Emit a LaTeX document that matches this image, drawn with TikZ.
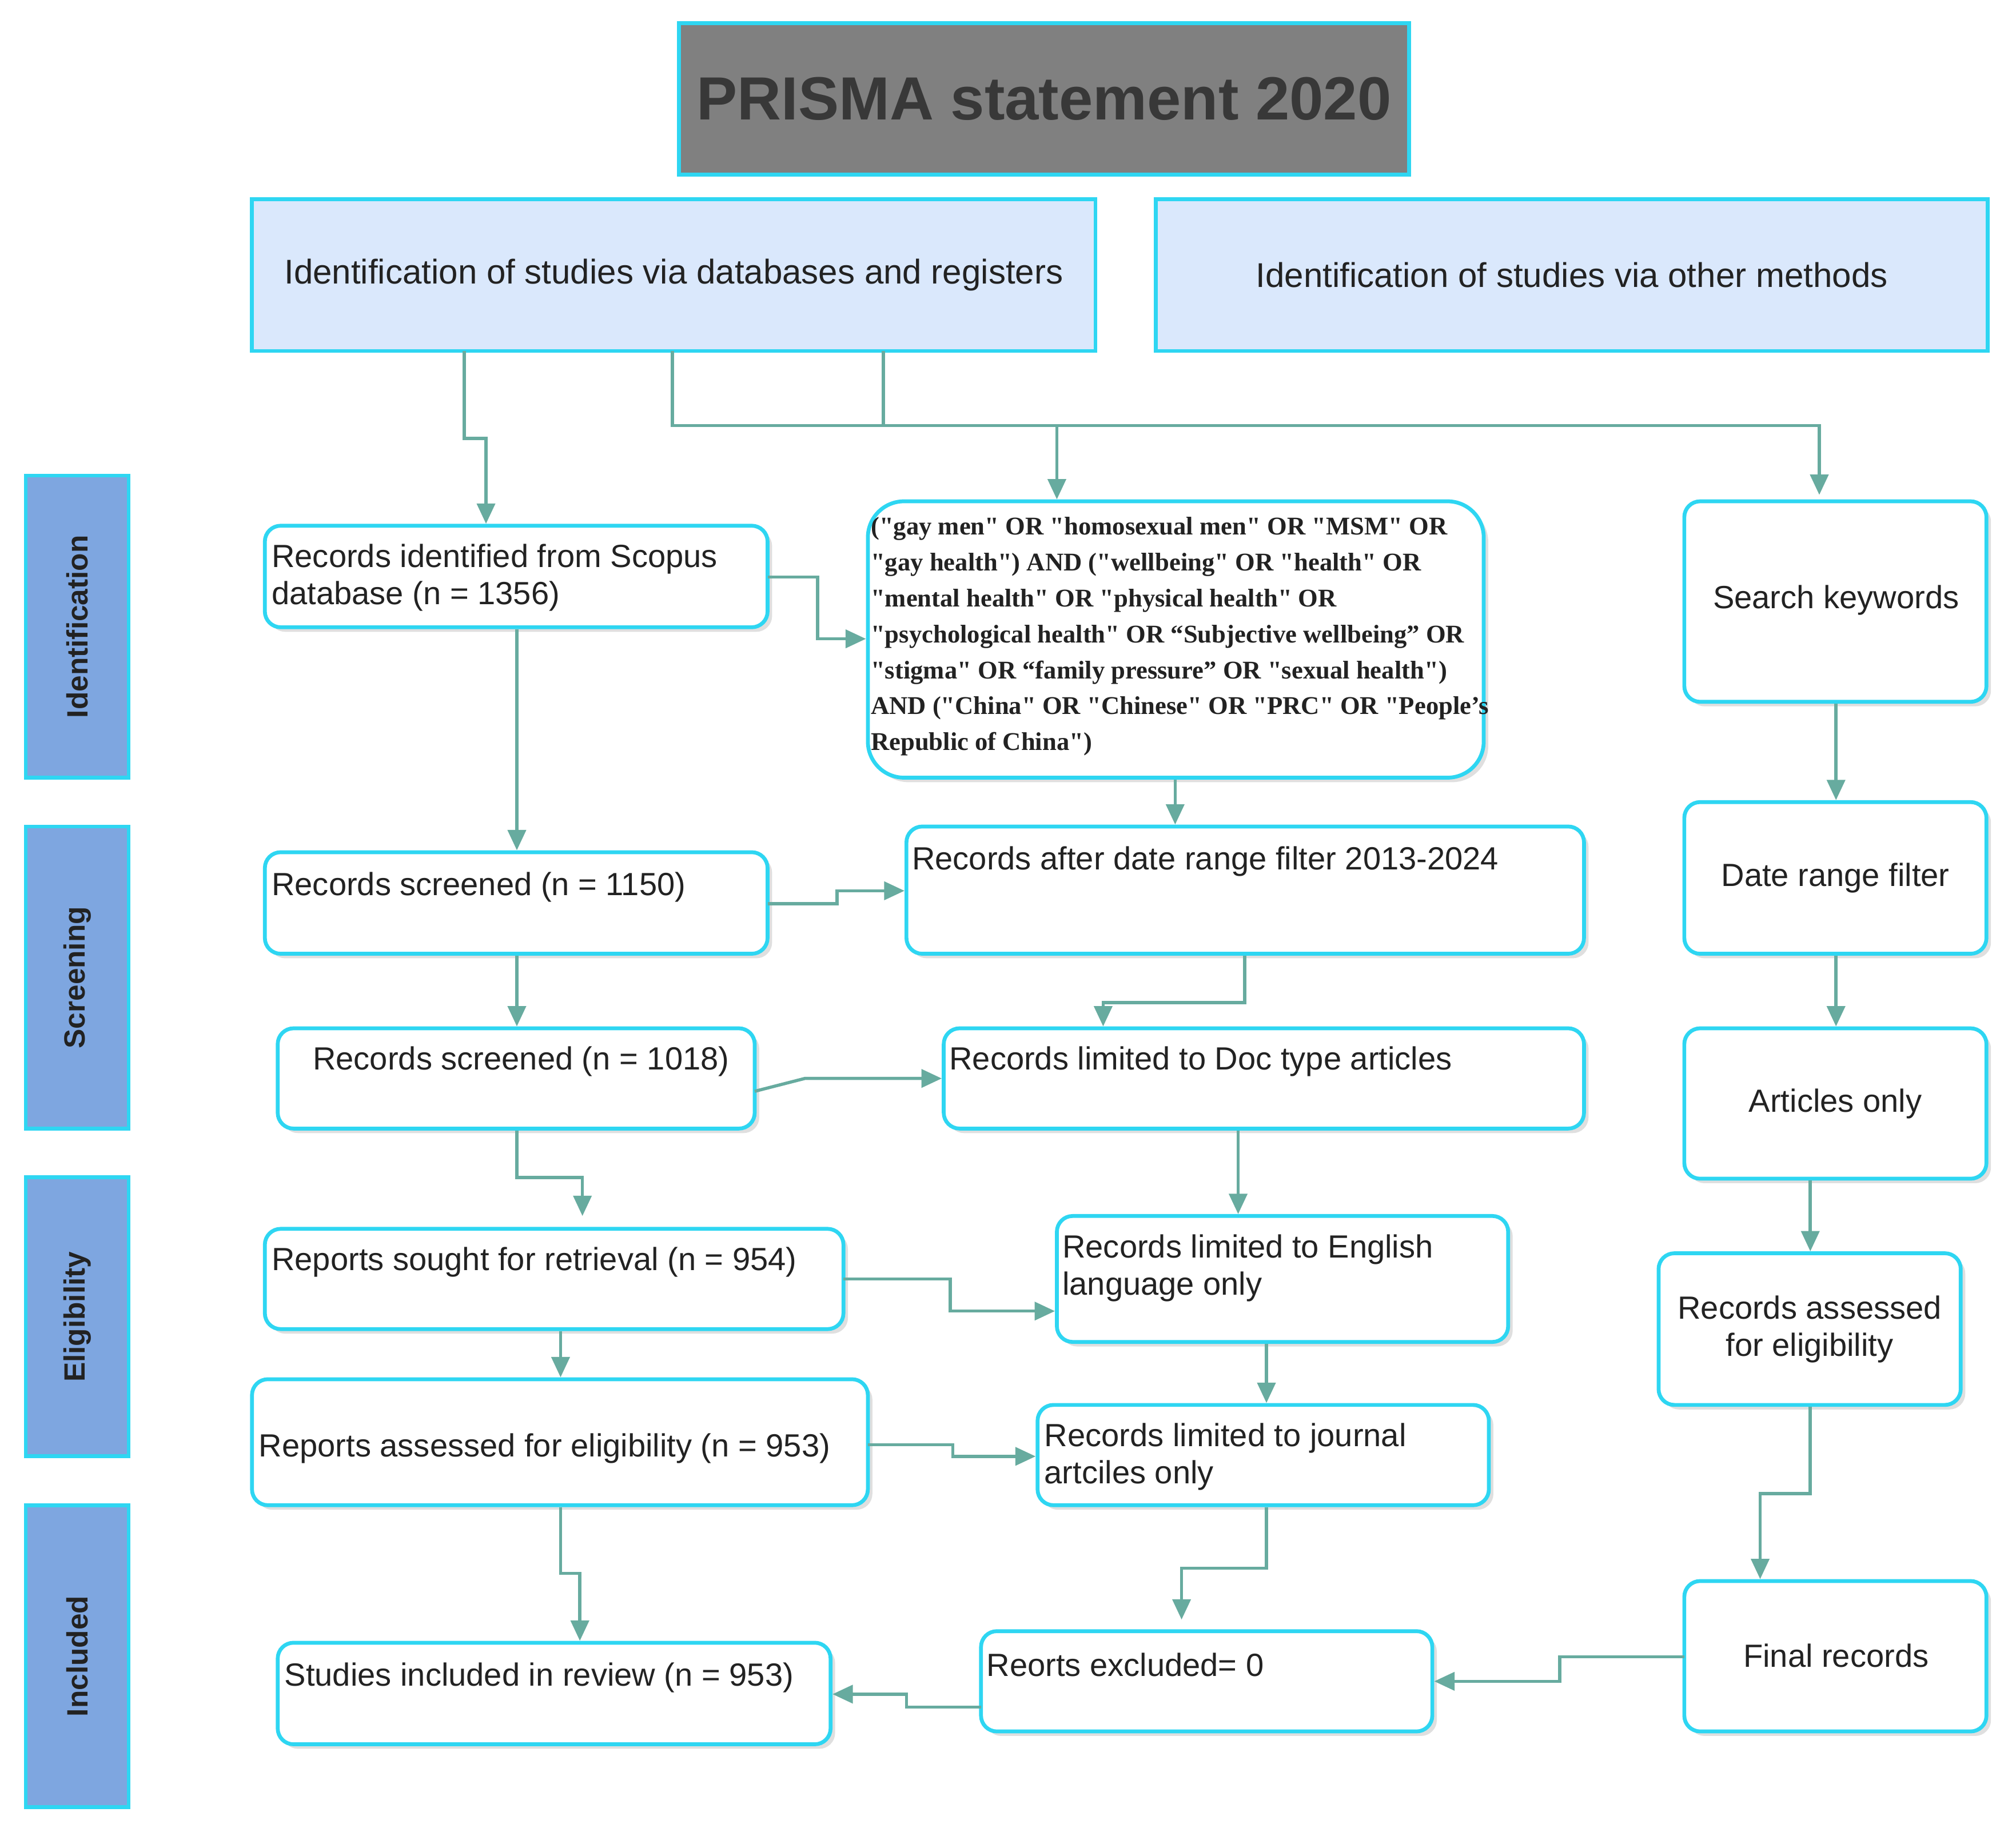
\documentclass[tikz,border=0pt]{standalone}
\usepackage{fontspec}
\setmainfont{Liberation Sans}
\newfontfamily\qserif{Liberation Serif}
\usetikzlibrary{arrows.meta,shadows}
\definecolor{cyanb}{HTML}{2ED6F2}
\definecolor{teal}{HTML}{67AB9F}
\definecolor{hdr}{HTML}{DAE8FC}
\definecolor{side}{HTML}{7EA6E0}
\definecolor{ttl}{HTML}{808080}
\definecolor{txt}{HTML}{222222}
\tikzset{
 bx/.style={draw=cyanb,line width=1.7pt,rounded corners=7pt,fill=white,inner sep=0pt,
   drop shadow={opacity=0.25,shadow xshift=2pt,shadow yshift=-2pt}},
 hd/.style={draw=cyanb,line width=1.7pt,fill=hdr,inner sep=0pt},
 sd/.style={draw=cyanb,line width=1.7pt,fill=side,inner sep=0pt},
 tl/.style={draw=cyanb,line width=1.7pt,fill=ttl,inner sep=0pt},
 t/.style={font=\fontsize{14.2}{16.5}\selectfont,text=txt,align=left,inner sep=0pt},
 tc/.style={font=\fontsize{14.2}{16.5}\selectfont,text=txt,align=center,inner sep=0pt},
 ar/.style={draw=teal,line width=1.4pt,-{Triangle[width=8pt,length=9pt]}},
 ln/.style={draw=teal,line width=1.4pt},
}
\newcommand\bx[6]{\node[#6,minimum width={(#4-#2)*0.02cm},minimum height={(#5-#3)*0.02cm}] (#1) at ({(#2+#4)/2},{(#3+#5)/2}) {};}
\begin{document}
\begin{tikzpicture}[x=0.02cm,y=-0.02cm]
\useasboundingbox[fill=white] (0,0) rectangle (1568,1422);
% title and headers
\bx{T}{528}{18}{1096}{136}{tl}
\node[font=\fontsize{27}{31}\selectfont\bfseries,text=txt!90] at (T) {PRISMA statement 2020};
\bx{H1}{196}{155}{852}{273}{hd}
\node[tc,font=\fontsize{15.2}{18}\selectfont] at (H1) {Identification of studies via databases and registers};
\bx{H2}{899}{155}{1546}{273}{hd}
\node[tc,font=\fontsize{15.2}{18}\selectfont] at (H2) {Identification of studies via other methods};
% side labels
\bx{S1}{20}{370}{100}{605}{sd}
\node[rotate=90,font=\fontsize{13}{15}\selectfont\bfseries,text=txt] at (S1) {Identification};
\bx{S2}{20}{643}{100}{878}{sd}
\node[rotate=90,font=\fontsize{13}{15}\selectfont\bfseries,text=txt] at (S2) {Screening};
\bx{S3}{20}{916}{100}{1133}{sd}
\node[rotate=90,font=\fontsize{13}{15}\selectfont\bfseries,text=txt] at (S3) {Eligibility};
\bx{S4}{20}{1171}{100}{1406}{sd}
\node[rotate=90,font=\fontsize{13}{15}\selectfont\bfseries,text=txt] at (S4) {Included};
% left column
\bx{A1}{206}{409}{597}{488}{bx}
\node[t,anchor=north west] at (211,423) {Records identified from Scopus\\database (n = 1356)};
\bx{A2}{206}{663}{597}{742}{bx}
\node[t,anchor=west] at (211,690) {Records screened (n = 1150)};
\bx{A3}{216}{800}{587}{878}{bx}
\node[t,anchor=west] at (243,826) {Records screened (n = 1018)};
\bx{A4}{206}{956}{656}{1034}{bx}
\node[t,anchor=west] at (211,982) {Reports sought for retrieval (n = 954)};
\bx{A5}{196}{1073}{675}{1171}{bx}
\node[t,anchor=west] at (201,1127) {Reports assessed for eligibility (n = 953)};
\bx{A6}{216}{1278}{646}{1357}{bx}
\node[t,anchor=west] at (221,1305) {Studies included in review (n = 953)};
% middle column
\bx{Q}{675}{390}{1154}{605}{bx,rounded corners=16pt}
\node[anchor=north west,inner sep=0pt,align=left,font=\qserif\bfseries\fontsize{11.3}{15.9}\selectfont,text=txt] at (677,402)
{("gay men" OR "homosexual men" OR "MSM" OR\\"gay health") AND ("wellbeing" OR "health" OR\\"mental health" OR "physical health" OR\\"psychological health" OR “Subjective wellbeing” OR\\"stigma" OR “family pressure” OR "sexual health")\\AND ("China" OR "Chinese" OR "PRC" OR "People’s\\Republic of China")};
\bx{B2}{705}{643}{1232}{742}{bx}
\node[t,anchor=west] at (709,670) {Records after date range filter 2013-2024};
\bx{B3}{734}{800}{1232}{878}{bx}
\node[t,anchor=west] at (738,826) {Records limited to Doc type articles};
\bx{B4}{822}{946}{1173}{1044}{bx}
\node[t,anchor=north west] at (826,960) {Records limited to English\\language only};
\bx{B5}{807}{1093}{1158}{1171}{bx}
\node[t,anchor=north west] at (812,1107) {Records limited to journal\\artciles only};
\bx{B6}{763}{1269}{1114}{1347}{bx}
\node[t,anchor=west] at (767,1295) {Reorts excluded= 0};
% right column
\bx{K1}{1310}{390}{1545}{546}{bx}
\node[tc] at (1428,467) {Search keywords};
\bx{K2}{1310}{624}{1545}{742}{bx}
\node[tc] at (K2) {Date range filter};
\bx{K3}{1310}{800}{1545}{917}{bx}
\node[tc] at (K3) {Articles only};
\bx{K4}{1290}{975}{1525}{1093}{bx}
\node[tc] at (K4) {Records assessed\\for eligibility};
\bx{K5}{1310}{1230}{1545}{1347}{bx}
\node[tc] at (1428,1288) {Final records};
% connectors
\draw[ar] (361,273) -- (361,341) -- (378,341) -- (A1.north -| 378,0);
\draw[ln] (687,273) -- (687,331);
\draw[ar] (523,273) -- (523,331) -- (1415,331) -- (1415,385);
\draw[ar] (822,331) -- (Q.north -| 822,0);
\draw[ar] (597,449) -- (636,449) -- (636,497) -- (Q.west |- 0,497);
\draw[ar] (A1.south -| 402,0) -- (A2.north -| 402,0);
\draw[ar] (Q.south -| 914,0) -- (B2.north -| 914,0);
\draw[ar] (597,703) -- (651,703) -- (651,693) -- (B2.west |- 0,693);
\draw[ar] (B2.south -| 968,0) -- (968,780) -- (858,780) -- (B3.north -| 858,0);
\draw[ar] (A2.south -| 402,0) -- (A3.north -| 402,0);
\draw[ar] (587,849) -- (626,839) -- (B3.west |- 0,839);
\draw[ar] (A3.south -| 402,0) -- (402,916) -- (453,916) -- (453,946);
\draw[ar] (B3.south -| 963,0) -- (B4.north -| 963,0);
\draw[ar] (656,995) -- (739,995) -- (739,1020) -- (B4.west |- 0,1020);
\draw[ar] (A4.south -| 436,0) -- (A5.north -| 436,0);
\draw[ar] (B4.south -| 985,0) -- (B5.north -| 985,0);
\draw[ar] (675,1124) -- (741,1124) -- (741,1133) -- (B5.west |- 0,1133);
\draw[ar] (A5.south -| 436,0) -- (436,1224) -- (451,1224) -- (A6.north -| 451,0);
\draw[ar] (B5.south -| 985,0) -- (985,1220) -- (919,1220) -- (919,1260);
\draw[ar] (763,1328) -- (705,1328) -- (705,1318) -- (A6.east |- 0,1318);
\draw[ar] (K1.south -| 1428,0) -- (K2.north -| 1428,0);
\draw[ar] (K2.south -| 1428,0) -- (K3.north -| 1428,0);
\draw[ar] (K3.south -| 1408,0) -- (K4.north -| 1408,0);
\draw[ar] (K4.south -| 1408,0) -- (1408,1162) -- (1369,1162) -- (K5.north -| 1369,0);
\draw[ar] (1310,1289) -- (1213,1289) -- (1213,1308) -- (B6.east |- 0,1308);
\end{tikzpicture}
\end{document}
